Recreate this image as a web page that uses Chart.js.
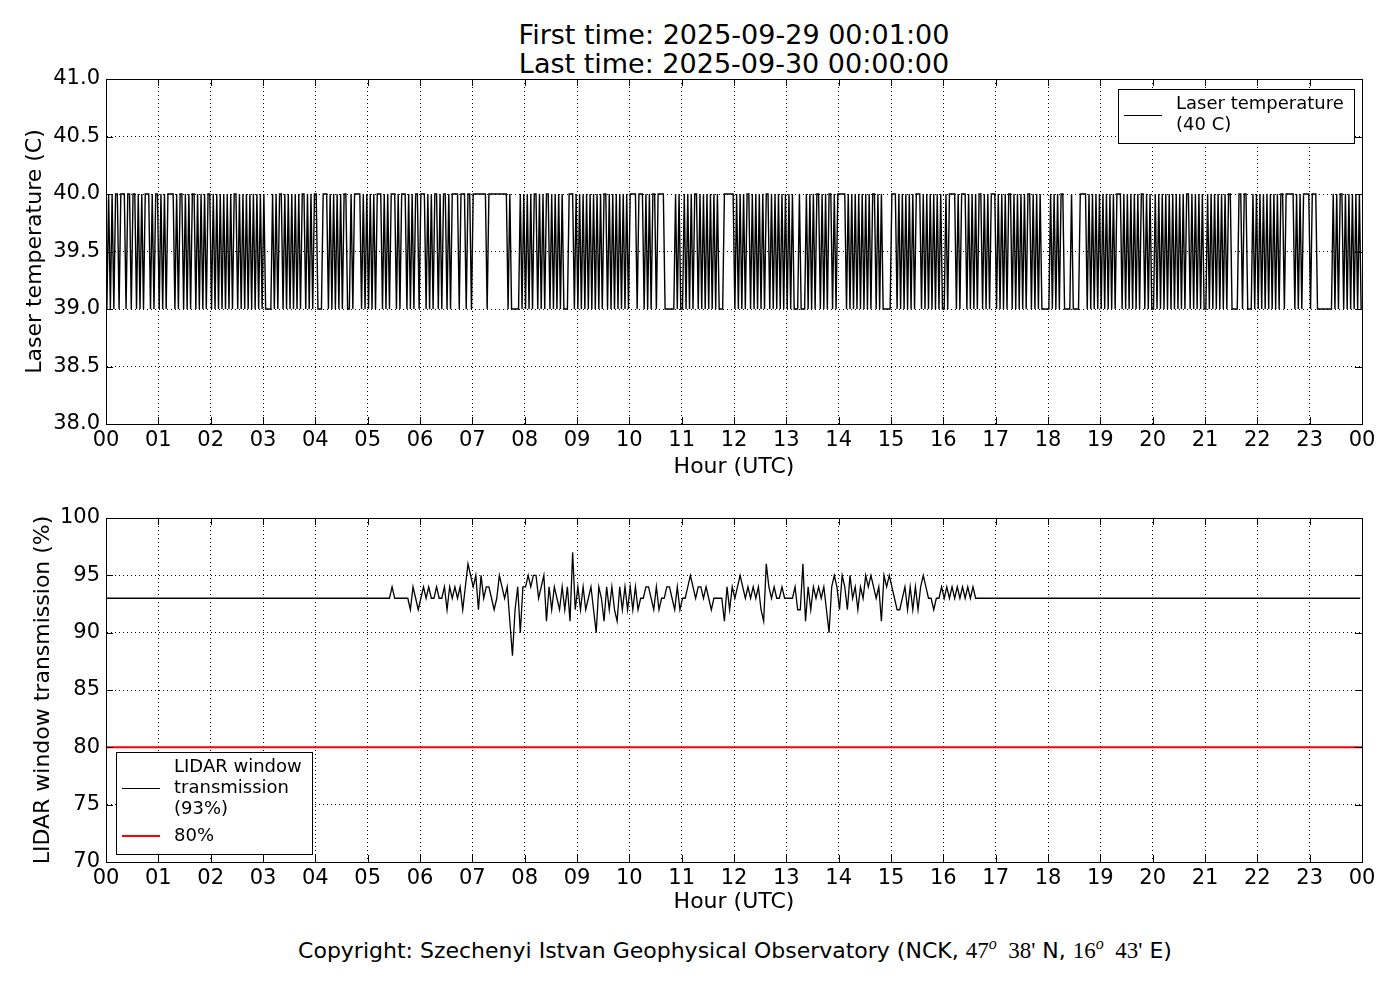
<!DOCTYPE html>
<html><head><meta charset="utf-8">
<script src="https://cdn.jsdelivr.net/npm/chart.js@4.4.1/dist/chart.umd.min.js"></script>
<style>
html,body{margin:0;padding:0;background:#fff;}
#wrap{position:relative;width:1400px;height:1000px;overflow:hidden;font-family:"DejaVu Sans",sans-serif;color:#000;}
#title{position:absolute;left:0;top:20px;width:1468px;text-align:center;font-size:27px;line-height:29px;}
#copy{position:absolute;left:0;top:938px;width:1470px;text-align:center;font-size:22px;line-height:25px;}
#copy .m{font-family:"Liberation Serif","DejaVu Serif",serif;font-size:23px;}
#copy sup{font-style:italic;font-size:16px;vertical-align:9px;line-height:0;}
canvas{position:absolute;left:0;}
#c1{top:0;}
#c2{top:480px;}
</style></head>
<body><div id="wrap">
<div id="title">First time: 2025-09-29 00:01:00<br>Last time: 2025-09-30 00:00:00</div>
<canvas id="c1" width="1400" height="480"></canvas>
<canvas id="c2" width="1400" height="440"></canvas>
<div id="copy">Copyright: Szechenyi Istvan Geophysical Observatory (NCK, <span class="m">47<sup>o</sup>&nbsp;&nbsp;38'</span> N, <span class="m">16<sup>o</sup>&nbsp;&nbsp;43'</span> E)</div>
</div>
<script>
// ---------- data ----------
const hourLabels = ['00','01','02','03','04','05','06','07','08','09','10','11','12','13','14','15','16','17','18','19','20','21','22','23','00'];
const laserLevels = [39.0, 40.0];            // '0' -> 39.0, '1' -> 40.0
const laserStepMinutes = 2;
// one string per hour, one character per 2-minute step
const laserPattern = [
 "010101101110110110101011101011",
 "010101111010110101011010101011",
 "010101010101011010101010101010",
 "100001010110101010101011010101",
 "100011101010101011001011110101",
 "010101110101011101011101010110",
 "111010101101011010111101110110",
 "111111110111111111110100000101",
 "010101101010110101010100011101",
 "010101010101010110101010101010",
 "111101110101011011110000001010",
 "010101011010101010101000111111",
 "010101011010101010110101010101",
 "010100010001010101101010110101",
 "111101010101010101011010100000",
 "111010101010101110101010101010",
 "010111101011101010101101010111",
 "010101011010101010110101010000",
 "010101011000010000111101010101",
 "010101010111010101010101101010",
 "010101010101010101011010101010",
 "010101010101011000011011000101",
 "010101010101011011111010101111",
 "011100000000010101101010101010"
];
const lidarBase = 88;                        // digit d -> 88 + d (%)
const lidarStepMinutes = 3;
const lidarPattern = [
 "55555555555555555555","55555555555555555555","55555555555555555555",
 "55555555555555555555","55555555555555555555",
 "55555555565555554654",
 "56565565564656564687",
 "67475665457656304626",
 "67677567364654646394",
 "64645642653646436464",
 "64645566546455665464",
 "55676566565455553646",
 "56765656564386565565",
 "55564483646565642676",
 "47647564657676563767",
 "65445646464676554556",
 "56565656565655555555",
 "55555555555555555555","55555555555555555555","55555555555555555555",
 "55555555555555555555","55555555555555555555","55555555555555555555",
 "55555555555555555555"
];
const thresholdValue = 80;
const laserTicks = {min:38, max:41, step:0.5};
const lidarTicks = {min:70, max:100, step:5};

// ---------- build series ----------
const laserData = [];
laserPattern.forEach((s,h)=>{ for(let i=0;i<s.length;i++){ laserData.push({x:h+(laserStepMinutes*i+1)/60, y:laserLevels[+s[i]]}); } });
const lidarData = [];
lidarPattern.forEach((s,h)=>{ for(let i=0;i<s.length;i++){ lidarData.push({x:h+(lidarStepMinutes*i+1)/60, y:lidarBase+(+s[i])}); } });
const thresholdData = [{x:0,y:thresholdValue},{x:24,y:thresholdValue}];

const FONT = '"DejaVu Sans", sans-serif';
Chart.defaults.font.family = FONT;
Chart.defaults.color = '#000';

const frameTicks = {
  id:'frameTicks',
  afterDraw(chart){
    const {ctx, chartArea:a, scales:{x,y}} = chart;
    const L = 7;
    ctx.save();
    ctx.strokeStyle = '#000'; ctx.lineWidth = 1; ctx.setLineDash([]);
    ctx.beginPath();
    x.ticks.forEach(t=>{ const px=Math.round(x.getPixelForValue(t.value))+0.5;
      ctx.moveTo(px,a.bottom); ctx.lineTo(px,a.bottom-L);
      ctx.moveTo(px,a.top); ctx.lineTo(px,a.top+L); });
    y.ticks.forEach(t=>{ const py=Math.round(y.getPixelForValue(t.value))+0.5;
      ctx.moveTo(a.left,py); ctx.lineTo(a.left+L,py);
      ctx.moveTo(a.right,py); ctx.lineTo(a.right-L,py); });
    ctx.stroke();
    ctx.strokeRect(Math.round(a.left)+0.5, Math.round(a.top)+0.5, Math.round(a.right-a.left), Math.round(a.bottom-a.top));
    ctx.restore();
  }
};

const boxLegend = {
  id:'boxLegend',
  afterDraw(chart, args, opts){
    const {ctx, chartArea:a} = chart;
    const fs = 18, lh = 21, gap = 6;
    ctx.save();
    ctx.font = fs+'px '+FONT;
    const entries = chart.data.datasets.map(d=>({lines:d.label.split('\n'), color:d.borderColor, width:d.legendWidth||d.borderWidth}));
    let maxW = 0, nLines = 0;
    entries.forEach(e=>{ e.lines.forEach(l=>{ maxW=Math.max(maxW, ctx.measureText(l).width); }); nLines += e.lines.length; });
    const w = Math.round(58 + maxW + 10);
    const h = Math.round(15 + (nLines-1)*lh + (entries.length-1)*gap + 18);
    let left, top;
    if (opts.corner === 'tr') { left = Math.round(a.right) - 8 - w; top = Math.round(a.top) + 10; }
    else { left = Math.round(a.left) + 10; top = Math.round(a.bottom) - 8 - h; }
    ctx.fillStyle = '#fff'; ctx.fillRect(left, top, w, h);
    ctx.strokeStyle = '#000'; ctx.lineWidth = 1;
    ctx.strokeRect(left+0.5, top+0.5, w, h);
    let cy = top + 15;
    ctx.textBaseline = 'middle'; ctx.textAlign = 'left'; ctx.fillStyle = '#000';
    entries.forEach(e=>{
      const first = cy;
      e.lines.forEach((l,i)=>{ ctx.fillText(l, left+58, cy); if(i<e.lines.length-1) cy += lh; });
      const mid = Math.round((first+cy)/2) + (e.width>1.5?0:0.5);
      ctx.beginPath(); ctx.strokeStyle = e.color; ctx.lineWidth = e.width;
      ctx.moveTo(left+6, mid); ctx.lineTo(left+44, mid); ctx.stroke();
      cy += lh + gap;
    });
    ctx.restore();
  }
};

function xScale(height, titleBottom){
  return {
    type:'linear', min:0, max:24, z:1,
    ticks:{stepSize:1, autoSkip:false, maxRotation:0, padding:4, font:{size:21}, color:'#000',
      callback:(v)=>hourLabels[Math.round(v)]},
    grid:{color:'#000', lineWidth:1, drawTicks:false},
    border:{display:true, color:'#000', width:1, dash:[1,3]},
    title:{display:true, text:'Hour (UTC)', font:{size:22}, color:'#000', padding:{top:0,bottom:titleBottom}},
    afterFit:(s)=>{ s.height = height; }
  };
}
function yScale(t, label, titleTop, digits){
  return {
    type:'linear', min:t.min, max:t.max, z:1,
    ticks:{stepSize:t.step, padding:6, font:{size:21}, color:'#000', callback:(v)=>v.toFixed(digits)},
    grid:{color:'#000', lineWidth:1, drawTicks:false},
    border:{display:true, color:'#000', width:1, dash:[1,3]},
    title:{display:true, text:label, font:{size:22}, color:'#000', padding:{top:titleTop,bottom:0}},
    afterFit:(s)=>{ s.width = 106; }
  };
}
const common = {
  responsive:false, animation:false, devicePixelRatio:1,
  elements:{point:{radius:0}, line:{tension:0}},
  plugins:{legend:{display:false}, tooltip:{enabled:false}}
};

new Chart(document.getElementById('c1'), {
  type:'line',
  data:{datasets:[{label:'Laser temperature\n(40 C)', data:laserData, borderColor:'#000', borderWidth:1.4, legendWidth:1}]},
  options:Object.assign({}, common, {
    layout:{padding:{left:0, right:38, top:79, bottom:0}},
    scales:{x:xScale(56, 0), y:yScale(laserTicks, 'Laser temperature (C)', 22, 1)},
    plugins:Object.assign({}, common.plugins, {boxLegend:{corner:'tr'}})
  }),
  plugins:[frameTicks, boxLegend]
});

new Chart(document.getElementById('c2'), {
  type:'line',
  data:{datasets:[
    {label:'LIDAR window\ntransmission\n(93%)', data:lidarData, borderColor:'#000', borderWidth:1.3, legendWidth:1},
    {label:'80%', data:thresholdData, borderColor:'#ff0000', borderWidth:2}
  ]},
  options:Object.assign({}, common, {
    layout:{padding:{left:0, right:38, top:38, bottom:0}},
    scales:{x:xScale(58, 5), y:yScale(lidarTicks, 'LIDAR window transmission (%)', 30, 0)},
    plugins:Object.assign({}, common.plugins, {boxLegend:{corner:'bl'}})
  }),
  plugins:[frameTicks, boxLegend]
});
</script>
</body></html>
